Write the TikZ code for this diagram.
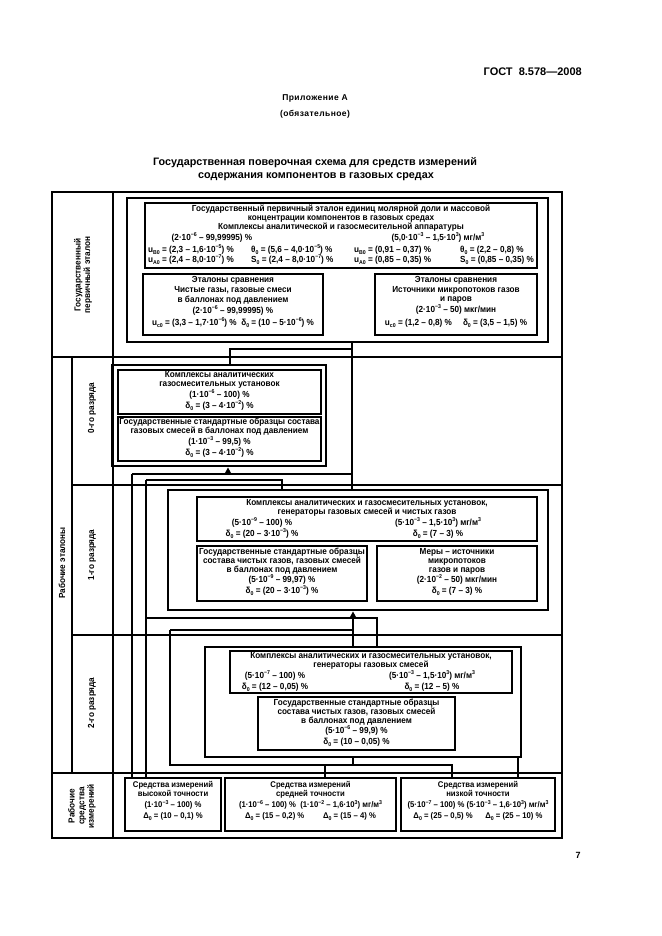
\documentclass[tikz,border=0pt]{standalone}
\usepackage{fontspec}
\setmainfont{Liberation Sans}[FakeStretch=0.93]
\newfontfamily\hdfont{Liberation Sans}
\usetikzlibrary{arrows.meta,fit}
\newcommand\nsup[1]{\raisebox{0.85ex}{\fontsize{5.6}{5.6}\selectfont #1}}
\newcommand\nsub[1]{\raisebox{-0.45ex}{\fontsize{5.6}{5.6}\selectfont #1}}
\newcommand\fs{\fontsize{8.8}{9.6}\selectfont\bfseries}
\newcommand\fw{\fontsize{8.3}{9.6}\selectfont\bfseries}
\newcounter{tn}
\newcommand\ptx[4][]{\stepcounter{tn}\node[t,#1] (t\arabic{tn}) at (#2,#3) {#4};}
\begin{document}
\begin{tikzpicture}[x=1pt,y=-1pt,
  t/.style={font=\fs, inner sep=0pt, text height=6pt, text depth=1.5pt},
  tw/.style={font=\fw},
  lab/.style={font=\fs, inner sep=0pt, rotate=90, align=center},
  tbox/.style={draw, line width=2.8pt, inner sep=0pt},
  ibox/.style={draw, line width=1.2pt, inner sep=0pt},
  grid/.style={line width=1.2pt},
  conn/.style={line width=2pt},
  arr/.style={conn, -{Triangle[length=6pt,width=6pt]}},
]
\useasboundingbox (0,0) rectangle (661,936);
% header
\node[inner sep=0pt, anchor=east, font=\hdfont\fontsize{11}{13}\selectfont\bfseries] (gost) at (582,72) {ГОСТ\ \ 8.578—2008};
\node[inner sep=0pt, font=\hdfont\fontsize{8.5}{10}\selectfont\bfseries\addfontfeature{LetterSpace=5}] (pril) at (315,98) {Приложение А};
\node[inner sep=0pt, font=\hdfont\fontsize{8.5}{10}\selectfont\bfseries\addfontfeature{LetterSpace=5}] (obyaz) at (315,114) {(обязательное)};
\node[inner sep=0pt, font=\hdfont\fontsize{10.8}{12}\selectfont\bfseries] (ttl1) at (315,163) {Государственная поверочная схема для средств измерений};
\node[inner sep=0pt, font=\hdfont\fontsize{10.8}{12}\selectfont\bfseries] (ttl2) at (316,177) {содержания компонентов в газовых средах};
\node[inner sep=0pt, font=\hdfont\fontsize{9}{11}\selectfont\bfseries] (pg) at (578,855) {7};

% table grid
\draw[grid] (52,192) rectangle (562,838);
\draw[grid] (52,357) -- (562,357);
\draw[grid] (72,485) -- (562,485);
\draw[grid] (72,635) -- (562,635);
\draw[grid] (52,773) -- (562,773);
\draw[grid] (113,192) -- (113,838);
\draw[grid] (72,357) -- (72,773);

% row labels
\node[lab] (lgpe) at (83,275) {Государственный\\[0pt]первичный эталон};
\node[lab] (lre) at (62,563) {Рабочие эталоны};
\node[lab] (l0) at (92,408) {0-го разряда};
\node[lab] (l1) at (92,555) {1-го разряда};
\node[lab] (l2) at (92,703) {2-го разряда};
\node[lab] (lrsi) at (82,806) {Рабочие\\средства\\измерений};

% boxes
\node[tbox, fit={(127,198) (548,342)}] (T0) {};
\node[ibox, fit={(145,203) (537,268)}] (P) {};
\node[ibox, fit={(143,274) (323,335)}] (C1) {};
\node[ibox, fit={(375,274) (537,335)}] (C2) {};
\node[tbox, fit={(112,365) (326,466)}] (Z) {};
\node[ibox, fit={(118,370) (321,414)}] (Z1) {};
\node[ibox, fit={(118,417) (321,461)}] (Z2) {};
\node[tbox, fit={(168,490) (548,610)}] (F) {};
\node[ibox, fit={(197,497) (537,541)}] (F1) {};
\node[ibox, fit={(197,546) (367,601)}] (F2) {};
\node[ibox, fit={(377,546) (537,601)}] (F3) {};
\node[tbox, fit={(205,647) (521,757)}] (S) {};
\node[ibox, fit={(230,651) (512,693)}] (S1) {};
\node[ibox, fit={(258,697) (455,750)}] (S2) {};
\node[tbox, fit={(125,778) (221,831)}] (W1) {};
\node[tbox, fit={(225,778) (396,831)}] (W2) {};
\node[tbox, fit={(401,778) (555,831)}] (W3) {};

% P text
\ptx{341}{209}{Государственный первичный эталон единиц молярной доли и массовой}
\ptx{341}{218}{концентрации компонентов в газовых средах}
\ptx{341}{227}{Комплексы аналитической и газосмесительной аппаратуры}
\ptx{212}{238}{(2·10\nsup{−6} – 99,99995) \%}
\ptx{438}{238}{(5,0·10\nsup{−3} – 1,5·10\nsup{3}) мг/м\nsup{3}}
\ptx[anchor=west]{148}{250}{u\nsub{B0} = (2,3 – 1,6·10\nsup{−5}) \%}
\ptx[anchor=west]{251}{250}{θ\nsub{0} = (5,6 – 4,0·10\nsup{−5}) \%}
\ptx[anchor=west]{354}{250}{u\nsub{B0} = (0,91 – 0,37) \%}
\ptx[anchor=west]{460}{250}{θ\nsub{0} = (2,2 – 0,8) \%}
\ptx[anchor=west]{148}{260}{u\nsub{A0} = (2,4 – 8,0·10\nsup{−7}) \%}
\ptx[anchor=west]{251}{260}{S\nsub{0} = (2,4 – 8,0·10\nsup{−7}) \%}
\ptx[anchor=west]{354}{260}{u\nsub{A0} = (0,85 – 0,35) \%}
\ptx[anchor=west]{460}{260}{S\nsub{0} = (0,85 – 0,35) \%}

% C1 text
\ptx{233}{280}{Эталоны сравнения}
\ptx{233}{290}{Чистые газы, газовые смеси}
\ptx{233}{300}{в баллонах под давлением}
\ptx{233}{311}{(2·10\nsup{−6} – 99,99995) \%}
\ptx{233}{323}{u\nsub{c0} = (3,3 – 1,7·10\nsup{−6}) \% \ δ\nsub{0} = (10 – 5·10\nsup{−6}) \%}
% C2 text
\ptx{456}{280}{Эталоны сравнения}
\ptx{456}{290}{Источники микропотоков газов}
\ptx{456}{299}{и паров}
\ptx{456}{310}{(2·10\nsup{−3} – 50) мкг/мин}
\ptx{456}{323}{u\nsub{c0} = (1,2 – 0,8) \% \quad δ\nsub{0} = (3,5 – 1,5) \%}

% Z text
\ptx{219.5}{375}{Комплексы аналитических}
\ptx{219.5}{384.5}{газосмесительных установок}
\ptx{219.5}{395.5}{(1·10\nsup{−6} – 100) \%}
\ptx{219.5}{406.5}{δ\nsub{0} = (3 – 4·10\nsup{−2}) \%}
\ptx{219.5}{422}{Государственные стандартные образцы состава}
\ptx{219.5}{431.5}{газовых смесей в баллонах под давлением}
\ptx{219.5}{442.5}{(1·10\nsup{−3} – 99,5) \%}
\ptx{219.5}{453.5}{δ\nsub{0} = (3 – 4·10\nsup{−2}) \%}

% F text
\ptx{367}{503}{Комплексы аналитических и газосмесительных установок,}
\ptx{367}{512}{генераторы газовых смесей и чистых газов}
\ptx{262}{523}{(5·10\nsup{−9} – 100) \%}
\ptx{438}{523}{(5·10\nsup{−3} – 1,5·10\nsup{3}) мг/м\nsup{3}}
\ptx{262}{534}{δ\nsub{0} = (20 – 3·10\nsup{−3}) \%}
\ptx{438}{534}{δ\nsub{0} = (7 – 3) \%}
\ptx{282}{552}{Государственные стандартные образцы}
\ptx{282}{561}{состава чистых газов, газовых смесей}
\ptx{282}{570}{в баллонах под давлением}
\ptx{282}{580.5}{(5·10\nsup{−9} – 99,97) \%}
\ptx{282}{591.5}{δ\nsub{0} = (20 – 3·10\nsup{−3}) \%}
\ptx{457}{552}{Меры – источники}
\ptx{457}{561}{микропотоков}
\ptx{457}{570}{газов и паров}
\ptx{457}{580.5}{(2·10\nsup{−2} – 50) мкг/мин}
\ptx{457}{591.5}{δ\nsub{0} = (7 – 3) \%}

% S text
\ptx{371}{656}{Комплексы аналитических и газосмесительных установок,}
\ptx{371}{665.5}{генераторы газовых смесей}
\ptx{275}{676.5}{(5·10\nsup{−7} – 100) \%}
\ptx{432}{676.5}{(5·10\nsup{−3} – 1,5·10\nsup{3}) мг/м\nsup{3}}
\ptx{275}{687.5}{δ\nsub{0} = (12 – 0,05) \%}
\ptx{432}{687.5}{δ\nsub{0} = (12 – 5) \%}
\ptx{356.5}{703}{Государственные стандартные образцы}
\ptx{356.5}{712}{состава чистых газов, газовых смесей}
\ptx{356.5}{721}{в баллонах под давлением}
\ptx{356.5}{731.5}{(5·10\nsup{−6} – 99,9) \%}
\ptx{356.5}{742}{δ\nsub{0} = (10 – 0,05) \%}

% W text
\ptx[tw]{173}{785}{Средства измерений}
\ptx[tw]{173}{794.5}{высокой точности}
\ptx[tw]{173}{805.5}{(1·10\nsup{−3} – 100) \%}
\ptx[tw]{173}{816.5}{Δ\nsub{0} = (10 – 0,1) \%}
\ptx[tw]{310.5}{785}{Средства измерений}
\ptx[tw]{310.5}{794.5}{средней точности}
\ptx[tw]{310.5}{805.5}{(1·10\nsup{−6} – 100) \% \ (1·10\nsup{−2} – 1,6·10\nsup{3}) мг/м\nsup{3}}
\ptx[tw]{310.5}{816.5}{Δ\nsub{0} = (15 – 0,2) \% \qquad Δ\nsub{0} = (15 – 4) \%}
\ptx[tw]{478}{785}{Средства измерений}
\ptx[tw]{478}{794.5}{низкой точности}
\ptx[tw]{478}{805.5}{(5·10\nsup{−7} – 100) \% (5·10\nsup{−3} – 1,6·10\nsup{3}) мг/м\nsup{3}}
\ptx[tw]{478}{816.5}{Δ\nsub{0} = (25 – 0,5) \% \quad\ Δ\nsub{0} = (25 – 10) \%}

% connector guides
\coordinate (vA) at (352,0);
\coordinate (vB) at (230,0);
\coordinate (vC) at (228,0);
\coordinate (vD) at (132,0);
\coordinate (vE) at (146,0);
\coordinate (vF) at (282,0);
\coordinate (vG) at (353,0);
\coordinate (vH) at (377,0);
\coordinate (vI) at (170,0);
\coordinate (vJ) at (325,0);
\coordinate (vK) at (452,0);
\coordinate (vL) at (518,0);
\coordinate (h1) at (0,349);
\coordinate (h2) at (0,474);
\coordinate (h3) at (0,480);
\coordinate (h4) at (0,618);
\coordinate (h5) at (0,630);
\coordinate (h6) at (0,765);

\draw[conn] (T0.south -| vA) -- (F.north -| vA);
\draw[conn] (vA |- h1) -- (vB |- h1) -- (Z.north -| vB);
\draw[conn] (vD |- h2) -- (vA |- h2);
\draw[arr] (vC |- h2) -- (Z.south -| vC);
\draw[conn] (vE |- h3) -- (vF |- h3) -- (F.north -| vF);
\draw[conn] (vD |- h2) -- (W1.north -| vD);
\draw[conn] (vE |- h3) -- (W1.north -| vE);
\draw[arr] (S.north -| vG) -- (F.south -| vG);
\draw[conn] (vE |- h4) -- (vH |- h4) -- (S.north -| vH);
\draw[conn] (vI |- h5) -- (vG |- h5);
\draw[conn] (vI |- h5) -- (vI |- h6) -- (vK |- h6) -- (W3.north -| vK);
\draw[conn] (vJ |- h6) -- (W2.north -| vJ);
\draw[conn] (S.south -| vG) -- (vG |- h6);
\draw[conn] (S.south -| vL) -- (W3.north -| vL);
\end{tikzpicture}
\end{document}
